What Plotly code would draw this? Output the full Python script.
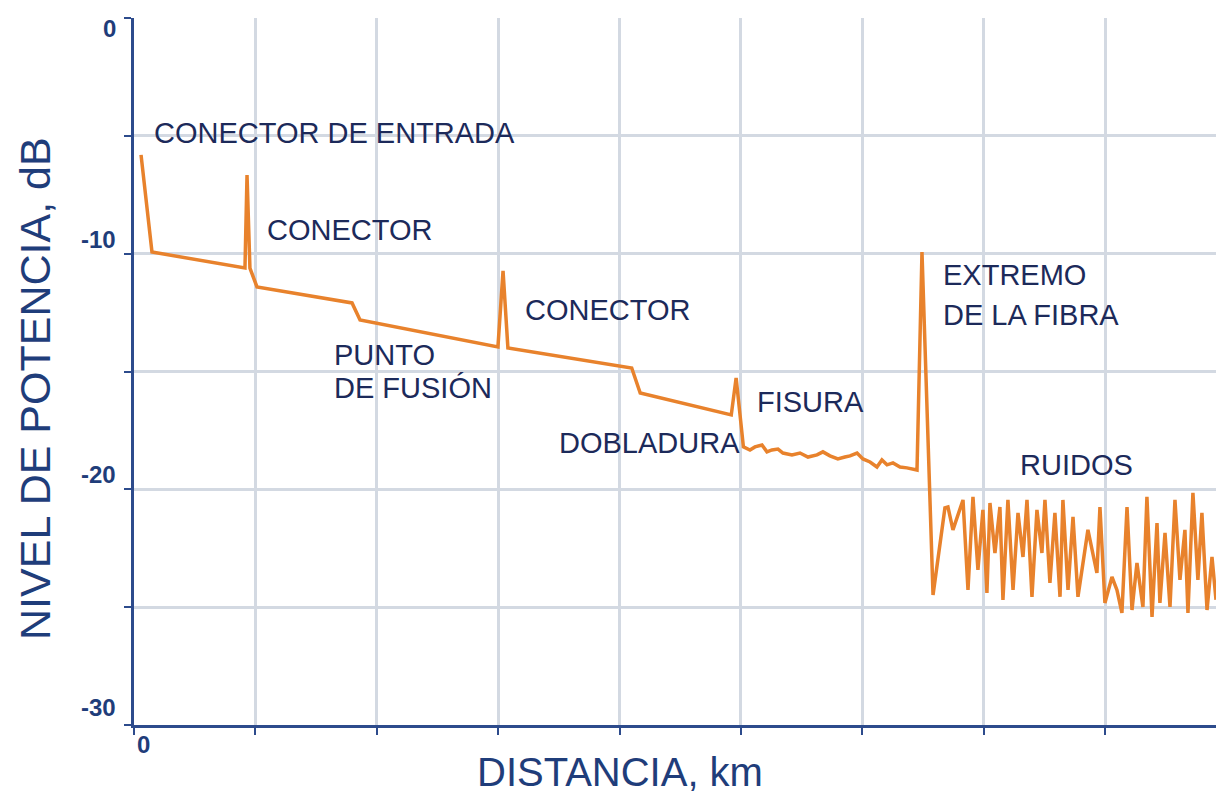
import plotly.graph_objects as go

# ---- data (distance in grid units, level in dB) ----
trace_x = [0.058, 0.148, 0.914, 0.931, 0.955, 1.013, 1.796, 1.862, 2.998, 3.040, 3.080,
           4.100, 4.170, 4.920, 4.960, 5.020,
           5.074, 5.115, 5.173, 5.214, 5.255, 5.305, 5.346, 5.420, 5.486, 5.552, 5.626,
           5.675, 5.733, 5.798, 5.856, 5.898, 5.956, 6.005, 6.063, 6.120, 6.161, 6.203,
           6.252, 6.310, 6.367, 6.417, 6.450,
           6.491, 6.582,
           6.680, 6.705, 6.746, 6.788, 6.829, 6.870, 6.911, 6.952, 6.993, 7.026, 7.051,
           7.092, 7.133, 7.158, 7.199, 7.241, 7.282, 7.323, 7.356, 7.397, 7.438, 7.479,
           7.504, 7.545, 7.586, 7.628, 7.652, 7.694, 7.735, 7.776, 7.858, 7.932, 7.957,
           7.998, 8.056, 8.097, 8.138, 8.180, 8.221, 8.262, 8.311, 8.344, 8.386, 8.427,
           8.451, 8.493, 8.534, 8.575, 8.616, 8.657, 8.682, 8.723, 8.764, 8.797, 8.839,
           8.880, 8.913]
trace_db = [-5.81, -9.93, -10.61, -6.66, -10.61, -11.41, -12.09, -12.81, -13.96, -10.73, -14.00,
            -14.85, -15.91, -16.84, -15.27, -18.20,
            -18.33, -18.20, -18.12, -18.41, -18.33, -18.29, -18.46, -18.54, -18.46, -18.63, -18.54,
            -18.41, -18.58, -18.71, -18.63, -18.58, -18.46, -18.71, -18.84, -19.05, -18.75, -18.96,
            -18.88, -19.05, -19.09, -19.13, -19.18,
            -9.93, -24.48,
            -20.79, -20.75, -21.72, -21.09, -20.45, -24.27, -20.32, -23.42, -20.87, -24.40, -20.58,
            -22.70, -20.75, -24.69, -20.45, -24.27, -21.00, -22.87, -20.45, -24.56, -20.87, -22.70,
            -20.45, -23.97, -21.00, -24.56, -20.45, -24.27, -21.17, -24.56, -21.72, -23.55, -20.75,
            -24.82, -23.72, -24.27, -25.24, -20.75, -25.12, -23.12, -24.99, -20.32, -25.41, -21.43,
            -24.82, -21.85, -24.99, -20.45, -23.84, -21.72, -25.24, -20.15, -23.84, -21.00, -25.12,
            -22.87, -24.69]

y_tick_labels = ["0", "-10", "-20", "-30"]
y_tick_values = [0, -10, -20, -30]
y_tick_shift = [-10, 14, 15, 18]

labels = ["CONECTOR DE ENTRADA", "CONECTOR", "CONECTOR", "PUNTO", "DE FUSIÓN",
          "DOBLADURA", "FISURA", "EXTREMO", "DE LA FIBRA", "RUIDOS"]
label_x = [0.148, 1.079, 3.204, 1.631, 1.631, 3.484, 5.115, 6.647, 6.647, 7.280]
label_y = [-4.88, -9.00, -12.39, -14.30, -15.70, -18.03, -16.29, -10.90, -12.60, -18.96]

ORANGE = "#e8822c"
AXIS = "#2d4b8c"
TEXT = "#1c2a5a"
TITLE = "#1f3d7a"
GRID = "#d3d9e2"
FONT = "Liberation Sans, Arial, sans-serif"

fig = go.Figure()
fig.add_trace(go.Scatter(x=trace_x, y=trace_db, mode="lines",
                         line=dict(color=ORANGE, width=3.5), showlegend=False,
                         hoverinfo="skip"))

annotations = []
for t, x, y in zip(labels, label_x, label_y):
    annotations.append(dict(text=t, x=x, y=y, xref="x", yref="y", xanchor="left",
                            yanchor="middle", showarrow=False,
                            font=dict(family=FONT, size=29, color=TEXT)))
for t, v, s in zip(y_tick_labels, y_tick_values, y_tick_shift):
    annotations.append(dict(text="<b>%s</b>" % t, x=-0.0148, y=v, xref="paper", yref="y",
                            xanchor="right", yanchor="middle", yshift=s, showarrow=False,
                            font=dict(family=FONT, size=24, color=TITLE)))
annotations.append(dict(text="<b>0</b>", x=0, y=-0.028, xref="x", yref="paper", xshift=9,
                        xanchor="center", yanchor="middle", showarrow=False,
                        font=dict(family=FONT, size=24, color=TITLE)))
annotations.append(dict(text="NIVEL DE POTENCIA, dB", x=-0.0915, y=0.4767, xref="paper",
                        yref="paper", textangle=-90, xanchor="center", yanchor="middle",
                        showarrow=False, font=dict(family=FONT, size=43, color=TITLE)))
annotations.append(dict(text="DISTANCIA, km", x=0.449, y=-0.0665, xref="paper",
                        yref="paper", xanchor="center", yanchor="middle",
                        showarrow=False, font=dict(family=FONT, size=40, color=TITLE)))

axis_common = dict(showgrid=True, gridcolor=GRID, gridwidth=3, showline=True,
                   linecolor=AXIS, linewidth=3, ticks="outside", ticklen=7,
                   tickwidth=2, tickcolor=AXIS, showticklabels=False, zeroline=False,
                   fixedrange=True)

fig.update_layout(
    width=1216, height=796,
    margin=dict(l=134, r=0, t=18, b=71),
    paper_bgcolor="white", plot_bgcolor="white",
    xaxis=dict(range=[0, 8.913], tick0=0, dtick=1, **axis_common),
    yaxis=dict(range=[-30, 0], tick0=0, dtick=5, **axis_common),
    annotations=annotations,
    showlegend=False,
)

fig.write_html("out.html", config={"displayModeBar": False},
               post_script="document.body.style.margin='0';document.body.style.overflow='hidden';")
